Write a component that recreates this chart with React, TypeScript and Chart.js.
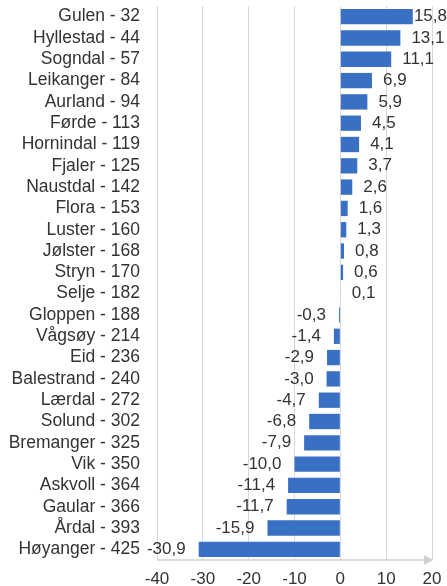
import React, { useEffect, useRef } from "react";
import { Chart, registerables } from "chart.js";

Chart.register(...registerables);

const categories = [
  "Gulen - 32", "Hyllestad - 44", "Sogndal - 57", "Leikanger - 84", "Aurland - 94",
  "Førde - 113", "Hornindal - 119", "Fjaler - 125", "Naustdal - 142", "Flora - 153",
  "Luster - 160", "Jølster - 168", "Stryn - 170", "Selje - 182", "Gloppen - 188",
  "Vågsøy - 214", "Eid - 236", "Balestrand - 240", "Lærdal - 272", "Solund - 302",
  "Bremanger - 325", "Vik - 350", "Askvoll - 364", "Gaular - 366", "Årdal - 393",
  "Høyanger - 425",
];

const values = [
  15.8, 13.1, 11.1, 6.9, 5.9, 4.5, 4.1, 3.7, 2.6, 1.6, 1.3, 0.8, 0.6, 0.1,
  -0.3, -1.4, -2.9, -3.0, -4.7, -6.8, -7.9, -10.0, -11.4, -11.7, -15.9, -30.9,
];

const xMin = -40;
const xMax = 20;
const xStep = 10;

const FONT = "'Liberation Sans', Arial, Helvetica, sans-serif";
const BAR = "#3a70c4";
const TEXT = "#333333";

const labelPlugin = {
  id: "barLabels",
  afterDatasetsDraw(chart: any) {
    const ctx = chart.ctx;
    const meta = chart.getDatasetMeta(0);
    ctx.save();
    ctx.font = `17px ${FONT}`;
    ctx.fillStyle = TEXT;
    ctx.textBaseline = "middle";
    meta.data.forEach((el: any, i: number) => {
      const v = values[i];
      const txt = v.toFixed(1).replace(".", ",");
      const w = ctx.measureText(txt).width;
      if (v >= 0) {
        let x = Math.max(el.x, el.base) + 11;
        if (x + w > chart.width) x = chart.width - w;
        ctx.textAlign = "left";
        ctx.fillText(txt, x, el.y);
      } else {
        const x = Math.min(el.x, el.base) - 13;
        ctx.textAlign = "right";
        ctx.fillText(txt, x, el.y);
      }
    });
    ctx.restore();
  },
  afterDraw(chart: any) {
    const ctx = chart.ctx;
    const { left, right, bottom } = chart.chartArea;
    ctx.save();
    ctx.strokeStyle = "#d0d0d0";
    ctx.fillStyle = "#d0d0d0";
    ctx.lineWidth = 1.5;
    ctx.beginPath();
    ctx.moveTo(left, bottom);
    ctx.lineTo(right - 4, bottom);
    ctx.stroke();
    ctx.beginPath();
    ctx.moveTo(right + 1, bottom);
    ctx.lineTo(right - 8, bottom - 5);
    ctx.lineTo(right - 8, bottom + 5);
    ctx.closePath();
    ctx.fill();
    ctx.restore();
  },
};

export default function App() {
  const ref = useRef<HTMLCanvasElement>(null);

  useEffect(() => {
    document.body.style.margin = "0";
    const chart = new Chart(ref.current!, {
      type: "bar",
      data: {
        labels: categories,
        datasets: [
          {
            data: values,
            backgroundColor: BAR,
            borderWidth: 0,
            barPercentage: 0.72,
            categoryPercentage: 1,
          },
        ],
      },
      options: {
        indexAxis: "y",
        animation: false,
        responsive: true,
        maintainAspectRatio: false,
        layout: { padding: { top: 6, right: 15, left: 0, bottom: 0 } },
        plugins: {
          legend: { display: false },
          tooltip: { enabled: false },
        },
        scales: {
          y: {
            type: "category",
            grid: { display: false, drawTicks: false },
            border: { display: false },
            ticks: {
              font: { size: 17.5, family: FONT },
              color: TEXT,
              padding: 17,
              autoSkip: false,
            },
            afterFit: (s: any) => {
              s.width = 157;
              s.paddingTop = 0;
              s.paddingBottom = 0;
            },
          },
          x: {
            type: "linear",
            min: xMin,
            max: xMax,
            grid: { color: "#d9d9d9", lineWidth: 1, drawTicks: false },
            border: { display: false },
            ticks: {
              stepSize: xStep,
              font: { size: 17, family: FONT },
              color: TEXT,
              padding: 9,
            },
            afterFit: (s: any) => {
              s.height = 26;
              s.paddingLeft = 0;
              s.paddingRight = 0;
            },
          },
        },
      },
      plugins: [labelPlugin],
    });
    return () => chart.destroy();
  }, []);

  return (
    <div style={{ width: 447, height: 586, position: "relative" }}>
      <canvas ref={ref} />
    </div>
  );
}
